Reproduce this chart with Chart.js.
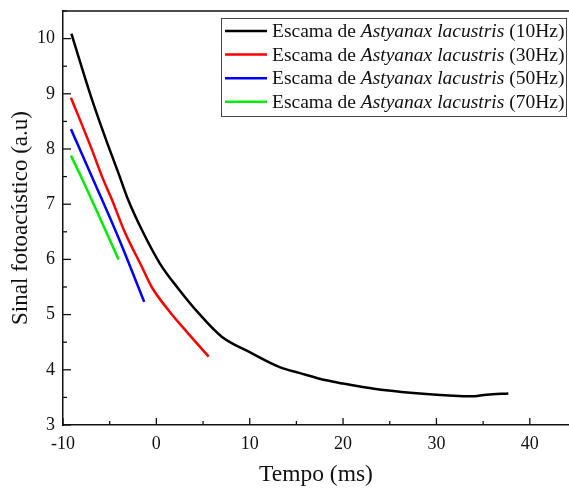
<!DOCTYPE html>
<html>
<head>
<meta charset="utf-8">
<style>
  html, body { margin: 0; padding: 0; background: #fff; }
  canvas { display: block; }
</style>
<script src="https://cdn.jsdelivr.net/npm/chart.js@4"></script>
</head>
<body>
<canvas id="myChart" width="569" height="488"></canvas>
<script>
// dados
const tempo10 = [-9.1, -7.0, -5.5, -4.1, -3.0, -1.6, 0.4, 2.4, 4.5, 7.0, 10.0, 13.2, 15.4, 18.2, 20.0, 22.1, 24.6, 28.2, 31.8, 33.6, 35.4, 37.7];
const sinal10 = [10.09, 8.95, 8.22, 7.58, 7.07, 6.55, 5.92, 5.46, 5.03, 4.60, 4.32, 4.05, 3.94, 3.81, 3.75, 3.69, 3.63, 3.57, 3.53, 3.52, 3.55, 3.57];

const tempo30 = [-9.15, -7.0, -5.7, -4.8, -3.4, -1.6, -0.5, 1.3, 3.4, 5.6];
const sinal30 = [8.93, 8.03, 7.45, 7.10, 6.50, 5.88, 5.50, 5.08, 4.66, 4.24];

const tempo50 = [-9.15, -6.75, -4.1, -1.3];
const sinal50 = [8.36, 7.44, 6.41, 5.23];

const tempo70 = [-9.15, -7.9, -4.05];
const sinal70 = [7.88, 7.44, 6.0];

const labels = ['(10Hz)', '(30Hz)', '(50Hz)', '(70Hz)'];
const cores = ['#000000', '#ff0000', '#0000ff', '#00ee00'];

const xTicks = [-10, 0, 10, 20, 30, 40];

const serif = "'Liberation Serif', 'Times New Roman', serif";

function pts(xs, ys) {
    return xs.map((x, i) => ({x: x, y: ys[i]}));
}

const series = [[tempo10, sinal10], [tempo30, sinal30], [tempo50, sinal50], [tempo70, sinal70]];

// ticks para dentro, linha de cima e legenda com italico
const framePlugin = {
    id: 'frame',
    afterDraw(chart) {
        const c = chart.ctx;
        const a = chart.chartArea;
        const xs = chart.scales.x, ys = chart.scales.y;
        c.save();
        c.strokeStyle = '#111';
        c.lineWidth = 1.5;
        c.beginPath();
        c.moveTo(a.left, a.top);
        c.lineTo(a.right, a.top);
        c.stroke();

        c.lineWidth = 1.3;
        for (let v = -10; v <= 44; v += 5) {
            const px = xs.getPixelForValue(v);
            const len = (v % 10 === 0) ? 7 : 4;
            c.beginPath();
            c.moveTo(px, a.bottom);
            c.lineTo(px, a.bottom - len);
            c.stroke();
        }
        for (let v = 3; v <= 10.5; v += 0.5) {
            const py = ys.getPixelForValue(v);
            const len = Number.isInteger(v) ? 8 : 4;
            c.beginPath();
            c.moveTo(a.left, py);
            c.lineTo(a.left + len, py);
            c.stroke();
        }

        // legenda
        const bx = 221, by = 18, bw = 345, bh = 98;
        c.fillStyle = '#fff';
        c.fillRect(bx, by, bw, bh);
        c.strokeStyle = '#444';
        c.lineWidth = 1;
        c.strokeRect(bx + 0.5, by + 0.5, bw, bh);
        const fs = 19.5;
        c.textBaseline = 'middle';
        labels.forEach((lab, i) => {
            const y = 31 + i * 23.6;
            c.strokeStyle = cores[i];
            c.lineWidth = 2.5;
            c.beginPath();
            c.moveTo(225, y);
            c.lineTo(267, y);
            c.stroke();
            c.fillStyle = '#111';
            let x = 272;
            const parts = [['Escama de ', ''], ['Astyanax lacustris', 'italic '], [' ' + lab, '']];
            parts.forEach(p => {
                c.font = p[1] + fs + 'px ' + serif;
                c.fillText(p[0], x, y + 1);
                x += c.measureText(p[0]).width;
            });
        });
        c.restore();
    }
};

const ctx = document.getElementById('myChart').getContext('2d');

const myChart = new Chart(ctx, {
    type: 'line',
    data: {
        datasets: series.map((s, i) => ({
            label: labels[i],
            data: pts(s[0], s[1]),
            borderColor: cores[i],
            backgroundColor: cores[i],
            borderWidth: 2.5,
            pointRadius: 0,
            fill: false,
            cubicInterpolationMode: 'monotone'
        }))
    },
    options: {
        responsive: false,
        animation: false,
        layout: { padding: { top: 11, right: 0, left: 0, bottom: 0 } },
        plugins: {
            legend: { display: false },
            tooltip: { enabled: false }
        },
        scales: {
            x: {
                type: 'linear',
                min: -10,
                max: 44.2,
                afterFit: s => { s.height = 63; s.paddingLeft = 0; s.paddingRight = 0; },
                afterBuildTicks: s => { s.ticks = xTicks.map(v => ({value: v})); },
                grid: { display: false, drawTicks: false },
                border: { display: true, color: '#111', width: 1.5 },
                ticks: {
                    padding: 8,
                    color: '#111',
                    maxRotation: 0,
                    autoSkip: false,
                    font: { family: serif, size: 18 }
                },
                title: {
                    display: true,
                    text: 'Tempo (ms)',
                    color: '#111',
                    padding: { top: 0, bottom: 0 },
                    font: { family: serif, size: 23.5, lineHeight: 1.1 }
                }
            },
            y: {
                min: 3,
                max: 10.5,
                afterFit: s => { s.width = 63; s.paddingTop = 0; s.paddingBottom = 0; },
                afterBuildTicks: s => { s.ticks = s.ticks.filter(t => Number.isInteger(t.value)); },
                grid: { display: false, drawTicks: false },
                border: { display: true, color: '#111', width: 1.5 },
                ticks: {
                    stepSize: 1,
                    padding: 8,
                    color: '#111',
                    font: { family: serif, size: 18 }
                },
                title: {
                    display: true,
                    text: 'Sinal fotoacústico (a.u)',
                    color: '#111',
                    padding: { top: 7, bottom: 0 },
                    font: { family: serif, size: 23, lineHeight: 1.2 }
                }
            }
        }
    },
    plugins: [framePlugin]
});
</script>
</body>
</html>
